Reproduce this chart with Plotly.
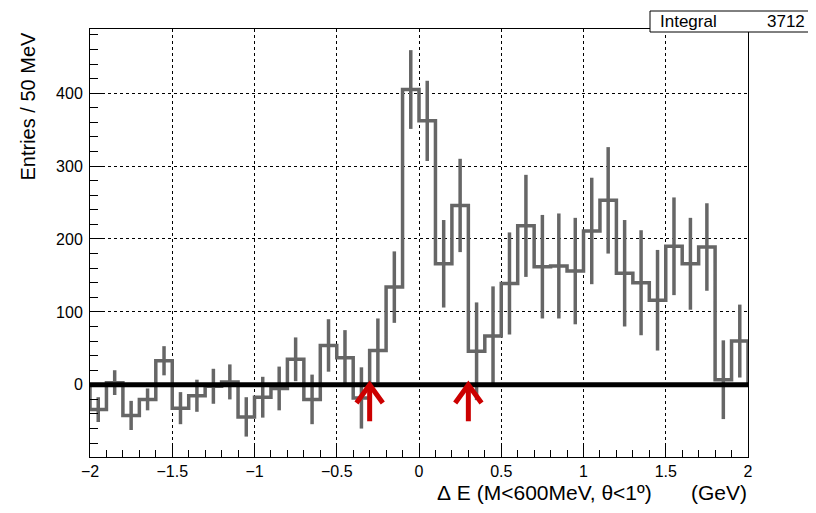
import numpy as np
import plotly.graph_objects as go

# ---- data ----
bin_edges = np.round(np.linspace(-2.0, 2.0, 41), 3)
counts = [-34, 3, -42, -20, 33, -32, -15, -2, 4, -44,
          -17, -5, 35, -20, 54, 37, -18, 47, 134, 405,
          362, 166, 246, 46, 67, 139, 218, 162, 163, 156,
          211, 253, 153, 140, 116, 190, 166, 189, 7, 60]
errors = [17, 17, 20, 15, 20, 22, 22, 24, 24, 27,
          28, 30, 30, 34, 36, 38, 42, 44, 49, 54,
          55, 60, 64, 67, 68, 70, 70, 71, 72, 73,
          73, 73, 73, 72, 69, 67, 63, 60, 54, 50]
cut_values = [-0.3, 0.3]
integral_value = 3712
x_tick_vals = [-2, -1.5, -1, -0.5, 0, 0.5, 1, 1.5, 2]
y_tick_vals = [0, 100, 200, 300, 400]

# ---- derived ----
centers = 0.5 * (bin_edges[:-1] + bin_edges[1:])
step_x = np.repeat(bin_edges, 2)
step_y = np.concatenate([[0], np.repeat(counts, 2), [0]])

GRAY = "#666666"
RED = "#cc0000"
FONT = "Liberation Sans, Arial, Helvetica, sans-serif"

# figure sits inside the page body (8px margin), so size/margins compensate
W, H = 808, 505
ML, MT = 82, 21
PW, PH = 658, 428

def px_to_paper_x(px):
    return (px - 8 - ML) / PW

def px_to_paper_y(py):
    return (MT + PH - (py - 8)) / PH

fig = go.Figure()
fig.add_trace(go.Scatter(x=step_x, y=step_y, mode="lines",
                         line=dict(color=GRAY, width=3.5), hoverinfo="skip"))
fig.add_trace(go.Scatter(x=centers, y=counts, mode="markers",
                         marker=dict(size=0.1, color=GRAY, opacity=0),
                         error_y=dict(type="data", array=errors, visible=True,
                                      color=GRAY, thickness=3.5, width=0)))

shapes = [dict(type="line", xref="x", yref="y", x0=bin_edges[0], x1=bin_edges[-1],
               y0=0, y1=0, line=dict(color="black", width=5), layer="above")]
head_dx, head_dy, shaft = 0.08, 25, 50
for c in cut_values:
    shapes.append(dict(type="line", xref="x", yref="y", x0=c, x1=c, y0=-shaft, y1=-4,
                       line=dict(color=RED, width=5), layer="above"))
    shapes.append(dict(type="path", xref="x", yref="y",
                       path=f"M {c-head_dx},{-head_dy} L {c},0 L {c+head_dx},{-head_dy}",
                       line=dict(color=RED, width=5), layer="above"))

# stats box
shapes.append(dict(type="rect", xref="paper", yref="paper",
                   x0=px_to_paper_x(650), x1=px_to_paper_x(813),
                   y0=px_to_paper_y(32), y1=px_to_paper_y(11), fillcolor="white",
                   line=dict(color="black", width=1), layer="above"))

stat_y = px_to_paper_y(21.5)
title_y = px_to_paper_y(492)
annotations = [
    dict(text="Integral", xref="paper", yref="paper", x=px_to_paper_x(658), y=stat_y,
         xanchor="left", yanchor="middle", showarrow=False,
         font=dict(family=FONT, size=17, color="black")),
    dict(text=str(integral_value), xref="paper", yref="paper", x=px_to_paper_x(807),
         y=stat_y, xanchor="right", yanchor="middle", showarrow=False,
         font=dict(family=FONT, size=17, color="black")),
    dict(text="Δ&nbsp;E (M&lt;600MeV, θ&lt;1º)", xref="paper", yref="paper",
         x=px_to_paper_x(654), y=title_y, xanchor="right", yanchor="middle",
         showarrow=False, font=dict(family=FONT, size=21, color="black")),
    dict(text="(GeV)", xref="paper", yref="paper",
         x=px_to_paper_x(749), y=title_y, xanchor="right", yanchor="middle",
         showarrow=False, font=dict(family=FONT, size=21, color="black")),
    dict(text="Entries / 50 MeV", xref="paper", yref="paper", textangle=-90,
         x=px_to_paper_x(27), y=px_to_paper_y(30), xanchor="center", yanchor="top",
         showarrow=False, font=dict(family=FONT, size=20, color="black")),
]

fig.update_layout(
    width=W, height=H,
    margin=dict(l=ML, r=W - ML - PW, t=MT, b=H - MT - PH),
    paper_bgcolor="white", plot_bgcolor="white",
    showlegend=False,
    shapes=shapes, annotations=annotations,
    font=dict(family=FONT, color="black"),
)
fig.update_xaxes(range=[-2, 2], tickvals=x_tick_vals, ticks="inside", ticklen=12,
                 tickcolor="black", showline=True, linecolor="black", linewidth=1,
                 mirror=True, showgrid=True, gridcolor="black", griddash="dot",
                 gridwidth=1, zeroline=False, tickfont=dict(size=16),
                 minor=dict(dtick=0.1, ticks="inside", ticklen=7, tickcolor="black",
                            showgrid=False))
fig.update_yaxes(range=[-99, 488], tickvals=y_tick_vals, ticks="inside", ticklen=14,
                 tickcolor="black", showline=True, linecolor="black", linewidth=1,
                 mirror=True, showgrid=True, gridcolor="black", griddash="dot",
                 gridwidth=1, zeroline=False, tickfont=dict(size=16),
                 ticklabelstandoff=3,
                 minor=dict(tick0=0, dtick=20, ticks="inside", ticklen=8,
                            tickcolor="black", showgrid=False))

fig.write_html("out.html")
